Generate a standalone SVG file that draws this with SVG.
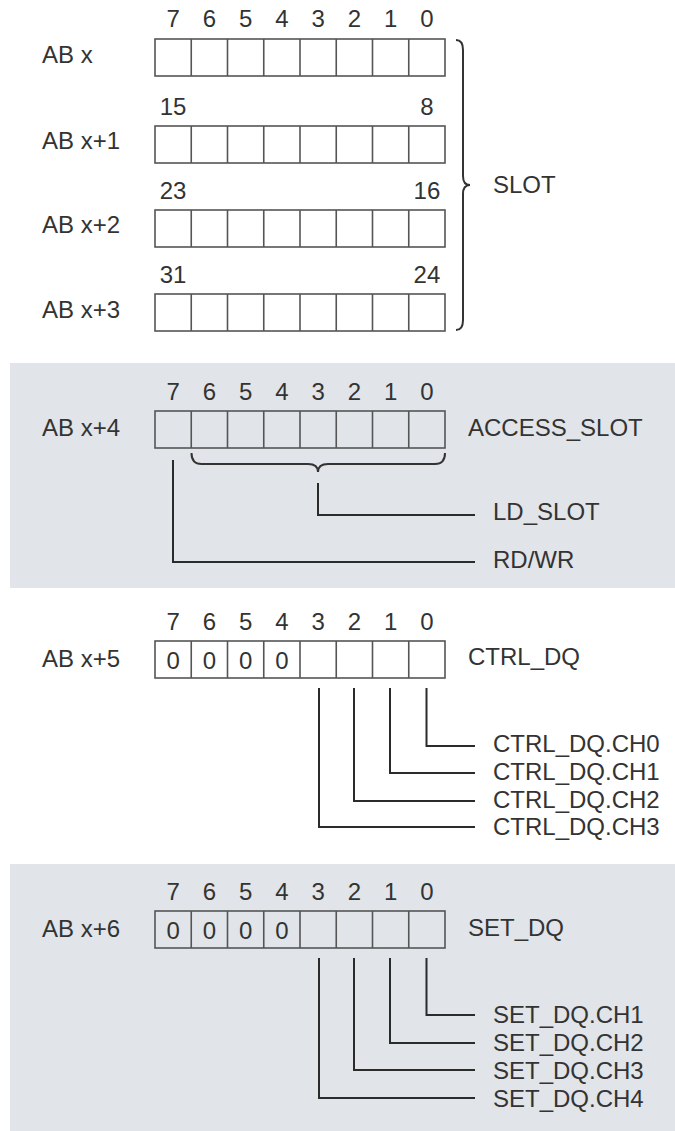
<svg xmlns="http://www.w3.org/2000/svg" xmlns:xlink="http://www.w3.org/1999/xlink" width="675" height="1131" viewBox="0 0 675 1131">
  <style>
    text { font-family: "Liberation Sans", Arial, sans-serif; font-size: 24px; fill: #333; }
    .num { text-anchor: middle; }
    .band { fill: #e1e4e8; }
    .cell { fill: none; stroke: #555; stroke-width: 1.6; }
    .wire { fill: none; stroke: #2b2b2b; stroke-width: 2; }
    .brace { fill: none; stroke: #333; stroke-width: 2; }
  </style>
  <defs>
    <!-- one byte: 8 bit cells, 290 x 37 -->
    <g id="byte">
      <rect class="cell" x="0" y="0" width="290" height="37"/>
      <path class="cell" d="M36.25,0v37M72.5,0v37M108.75,0v37M145,0v37M181.25,0v37M217.5,0v37M253.75,0v37"/>
    </g>
    <!-- bit numbers 7..0 centred over the cells -->
    <g id="bitnums">
      <text class="num" x="18.1">7</text>
      <text class="num" x="54.4">6</text>
      <text class="num" x="90.6">5</text>
      <text class="num" x="126.9">4</text>
      <text class="num" x="163.1">3</text>
      <text class="num" x="199.4">2</text>
      <text class="num" x="235.6">1</text>
      <text class="num" x="271.9">0</text>
    </g>
    <!-- fixed zero bits 7..4 -->
    <g id="zeros">
      <text class="num" x="18.1">0</text>
      <text class="num" x="54.4">0</text>
      <text class="num" x="90.6">0</text>
      <text class="num" x="126.9">0</text>
    </g>
  </defs>

  <rect width="675" height="1131" fill="#fff"/>
  <rect class="band" x="10" y="363" width="665" height="225"/>
  <rect class="band" x="10" y="864" width="665" height="267"/>

  <!-- SLOT: bytes x .. x+3 -->
  <g id="ab-x">
    <use xlink:href="#bitnums" x="155" y="27"/>
    <text x="42" y="63">AB x</text>
    <use xlink:href="#byte" x="155" y="39"/>
  </g>
  <g id="ab-x1">
    <text class="num" x="173.1" y="115">15</text>
    <text class="num" x="426.9" y="115">8</text>
    <text x="42" y="149">AB x+1</text>
    <use xlink:href="#byte" x="155" y="126"/>
  </g>
  <g id="ab-x2">
    <text class="num" x="173.1" y="199">23</text>
    <text class="num" x="426.9" y="199">16</text>
    <text x="42" y="233">AB x+2</text>
    <use xlink:href="#byte" x="155" y="210"/>
  </g>
  <g id="ab-x3">
    <text class="num" x="173.1" y="283">31</text>
    <text class="num" x="426.9" y="283">24</text>
    <text x="42" y="318">AB x+3</text>
    <use xlink:href="#byte" x="155" y="294"/>
  </g>
  <g id="slot">
    <path class="brace" d="M456,40 Q463,40 463,50 L463,176 Q463,185 470,185 Q463,185 463,194 L463,320 Q463,330 456,330"/>
    <text x="493" y="193">SLOT</text>
  </g>

  <!-- ACCESS_SLOT: byte x+4 -->
  <g id="ab-x4">
    <use xlink:href="#bitnums" x="155" y="400"/>
    <text x="42" y="436">AB x+4</text>
    <use xlink:href="#byte" x="155" y="411"/>
    <text x="468" y="436">ACCESS_SLOT</text>
  </g>
  <g id="ld-slot">
    <path class="brace" d="M191.5,453 Q191.5,464 201.5,464 L308,464 Q318,464 318,472 Q318,464 328,464 L435,464 Q445,464 445,453"/>
    <text x="493" y="520">LD_SLOT</text>
  </g>
  <g id="rd-wr">
    <text x="493" y="568">RD/WR</text>
  </g>

  <!-- CTRL_DQ: byte x+5 -->
  <g id="ab-x5">
    <use xlink:href="#bitnums" x="155" y="630"/>
    <text x="42" y="667">AB x+5</text>
    <use xlink:href="#byte" x="155" y="641"/>
    <use xlink:href="#zeros" x="155" y="669"/>
    <text x="468" y="665">CTRL_DQ</text>
  </g>
  <g id="ctrl-dq-ch">
    <text x="493" y="752">CTRL_DQ.CH0</text>
    <text x="493" y="780">CTRL_DQ.CH1</text>
    <text x="493" y="808">CTRL_DQ.CH2</text>
    <text x="493" y="835">CTRL_DQ.CH3</text>
  </g>

  <!-- SET_DQ: byte x+6 -->
  <g id="ab-x6">
    <use xlink:href="#bitnums" x="155" y="900"/>
    <text x="42" y="937">AB x+6</text>
    <use xlink:href="#byte" x="155" y="911"/>
    <use xlink:href="#zeros" x="155" y="939"/>
    <text x="468" y="936">SET_DQ</text>
  </g>
  <g id="set-dq-ch">
    <text x="493" y="1023">SET_DQ.CH1</text>
    <text x="493" y="1051">SET_DQ.CH2</text>
    <text x="493" y="1079">SET_DQ.CH3</text>
    <text x="493" y="1107">SET_DQ.CH4</text>
  </g>

  <!-- leader lines from bits to their names -->
  <g id="connectors">
    <path class="wire" d="M318,483 V515 H475"/>
    <path class="wire" d="M173,460 V562 H475"/>

    <path class="wire" d="M426.5,688 V746 H475"/>
    <path class="wire" d="M390,688 V773 H475"/>
    <path class="wire" d="M354,688 V801 H475"/>
    <path class="wire" d="M319,688 V827 H475"/>

    <path class="wire" d="M426.5,958 V1015 H475"/>
    <path class="wire" d="M390,958 V1043 H475"/>
    <path class="wire" d="M354,958 V1070 H475"/>
    <path class="wire" d="M319,958 V1098 H475"/>
  </g>
</svg>
